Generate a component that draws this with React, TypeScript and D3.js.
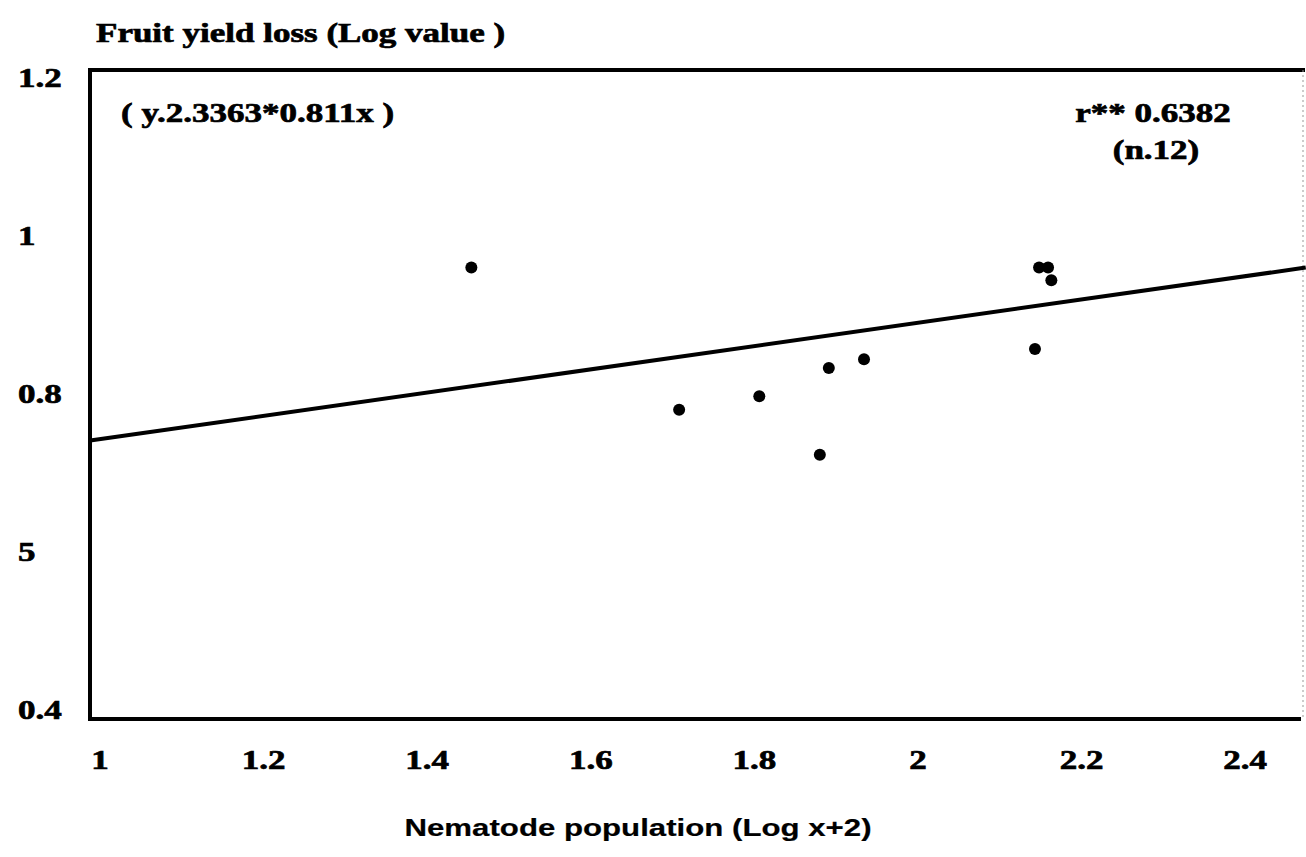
import React, { useEffect, useRef } from "react";
import * as d3 from "d3";

// nematode population (log x+2) and fruit yield loss (log) per plot
const popX = [1.454, 1.708, 1.806, 1.880, 1.891, 1.934, 2.143, 2.148, 2.159, 2.163];
const lossY = [0.960, 0.780, 0.797, 0.723, 0.833, 0.844, 0.857, 0.960, 0.960, 0.944];

// regression line end points
const fitX = [0.988, 2.474];
const fitY = [0.741, 0.960];

const xTicks = [1, 1.2, 1.4, 1.6, 1.8, 2, 2.2, 2.4];
const xTickLabels = ["1", "1.2", "1.4", "1.6", "1.8", "2", "2.2", "2.4"];
const yTicks = [1.2, 1, 0.8, 0.6, 0.4];
const yTickLabels = ["1.2", "1", "0.8", "5", "0.4"];

const W = 1306;
const H = 857;
const SERIF = "'Liberation Serif', 'Times New Roman', serif";
const SANS = "'Liberation Sans', Arial, sans-serif";
const SX = 1.25; // the scanned figure is stretched sideways

export default function App() {
  const ref = useRef<SVGSVGElement>(null);

  useEffect(() => {
    const svg = d3.select(ref.current);
    svg.selectAll("*").remove();

    const x = d3.scaleLinear().domain([0.9878, 2.4731]).range([90, 1305]);
    const y = d3.scaleLinear().domain([0.3886, 1.2101]).range([719, 70]);

    const label = (tx: number, ty: number, str: string, size: number, anchor = "start", font = SERIF, sx = SX) =>
      svg.append("text")
        .attr("transform", `translate(${tx},${ty}) scale(${sx},1)`)
        .attr("text-anchor", anchor)
        .attr("font-family", font)
        .attr("font-weight", "bold")
        .attr("font-size", size)
        .attr("fill", "#000")
        .attr("stroke", "#000")
        .attr("stroke-width", font === SERIF ? 0.7 : 0.2)
        .text(str);

    // frame
    const [x0, x1] = x.range();
    const [y0, y1] = y.range();
    svg.append("path")
      .attr("d", `M${x1},${y1}H${x0}V${y0}H${x1 - 4}`)
      .attr("fill", "none")
      .attr("stroke", "#000")
      .attr("stroke-width", 4);
    svg.append("line")
      .attr("x1", x1 - 2).attr("x2", x1 - 2)
      .attr("y1", y1).attr("y2", y0)
      .attr("stroke", "#999")
      .attr("stroke-width", 1)
      .attr("stroke-dasharray", "2,3");

    // regression line
    const line = d3.line<number>()
      .x((d) => x(d))
      .y((_, i) => y(fitY[i]));
    svg.append("path")
      .datum(fitX)
      .attr("d", line)
      .attr("fill", "none")
      .attr("stroke", "#000")
      .attr("stroke-width", 4);

    // points
    svg.selectAll("circle")
      .data(popX)
      .enter()
      .append("circle")
      .attr("cx", (d) => x(d))
      .attr("cy", (_, i) => y(lossY[i]))
      .attr("r", 6)
      .attr("fill", "#000");

    // tick labels
    xTicks.forEach((t, i) => label(x(t), 769, xTickLabels[i], 28, "middle"));
    yTicks.forEach((t, i) => label(18, y(t) + 9, yTickLabels[i], 28));

    // texts
    label(96, 42, "Fruit yield loss (Log value )", 28);
    label(121, 122, "( y.2.3363*0.811x )", 28);
    label(1153, 122, "r** 0.6382", 28, "middle");
    label(1156, 159, "(n.12)", 28, "middle");
    label(638, 836, "Nematode population (Log x+2)", 24, "middle", SANS, 1.3);
  }, []);

  return (
    <svg
      ref={ref}
      width={W}
      height={H}
      style={{ position: "absolute", left: 0, top: 0, background: "#fff" }}
    />
  );
}
